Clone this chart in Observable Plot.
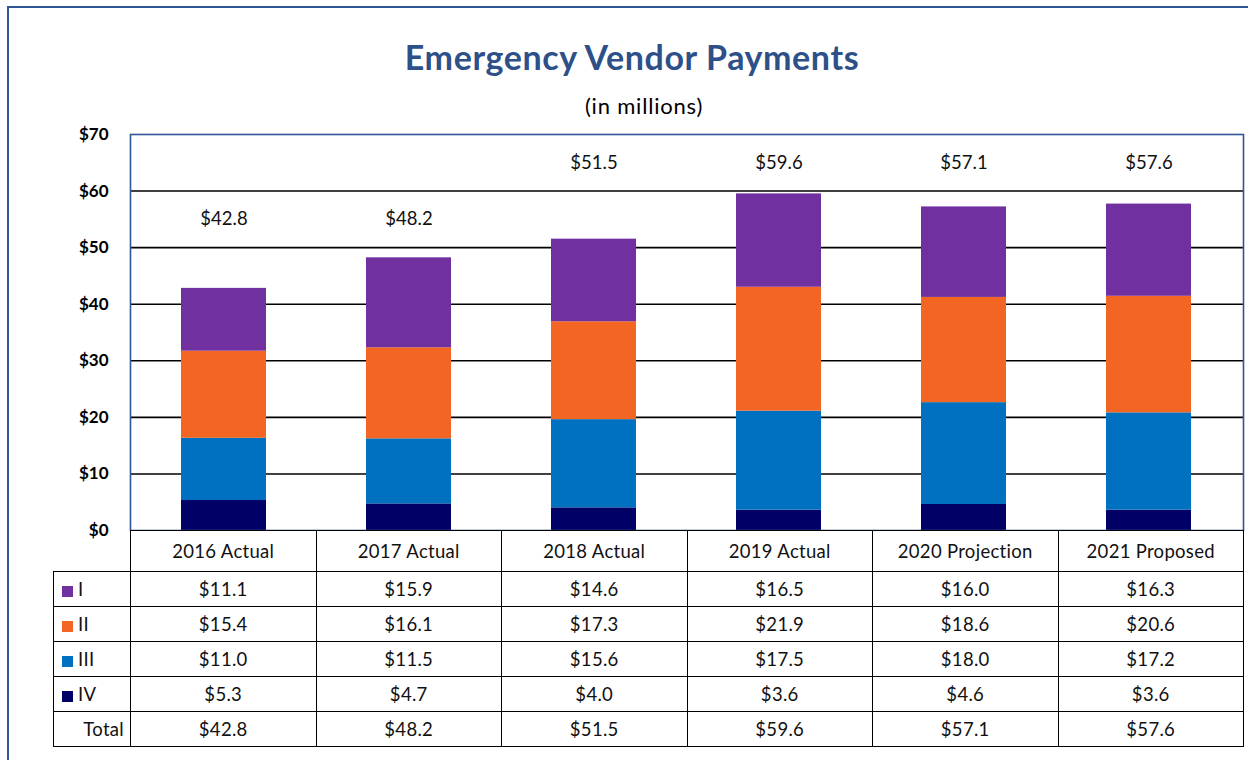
<!DOCTYPE html>
<html>
<head>
<meta charset="utf-8">
<script src="https://cdn.jsdelivr.net/npm/d3@7"></script>
<script src="https://cdn.jsdelivr.net/npm/@observablehq/plot@0.6"></script>
<style>
  html, body { margin: 0; padding: 0; background: #fff; width: 1248px; height: 760px; overflow: hidden; }
  body { font-family: Lato, "Open Sans", sans-serif; }
  #frame { position: absolute; left: 7px; top: 6px; width: 1300px; height: 800px; border: 2px solid #2F5597; box-sizing: border-box; }
  #title { position: absolute; left: 0; width: 1264px; top: 36px; text-align: center; font-size: 34px; letter-spacing: 0.6px; font-weight: bold; color: #2D5089; }
  #subtitle { position: absolute; left: 0; width: 1288px; top: 92px; text-align: center; font-size: 22px; letter-spacing: 0.8px; color: #000; }
  #chart { position: absolute; left: 0; top: 0; }
  #tbl { position: absolute; left: 53px; top: 530px; border-collapse: collapse; font-size: 18.5px; letter-spacing: 0.3px; table-layout: fixed; background: transparent; }
  #tbl td { border: 1.6px solid #000; text-align: center; padding: 0; background: #fff; color: #111; }
  #tbl tr.head td { height: 40px; }
  #tbl tr.row td { height: 34px; }
  #tbl td.lab { text-align: left; padding-left: 8px; }
  #tbl td.tot { text-align: right; padding-right: 6px; }
  #tbl td.empty { border: none; background: transparent; }
  .sw { display: inline-block; width: 11px; height: 11px; margin-right: 5px; vertical-align: -1px; }
</style>
</head>
<body>
<div id="frame"></div>
<div id="chart"></div>
<div id="title">Emergency Vendor Payments</div>
<div id="subtitle">(in millions)</div>
<table id="tbl"></table>
<script>
// ---- data ----
const categories = ["2016 Actual", "2017 Actual", "2018 Actual", "2019 Actual", "2020 Projection", "2021 Proposed"];
const seriesNames = ["I", "II", "III", "IV"];
const valuesI   = [11.1, 15.9, 14.6, 16.5, 16.0, 16.3];
const valuesII  = [15.4, 16.1, 17.3, 21.9, 18.6, 20.6];
const valuesIII = [11.0, 11.5, 15.6, 17.5, 18.0, 17.2];
const valuesIV  = [5.3, 4.7, 4.0, 3.6, 4.6, 3.6];
const totals    = [42.8, 48.2, 51.5, 59.6, 57.1, 57.6];
const yTicks    = [0, 10, 20, 30, 40, 50, 60, 70];
const colors    = ["#7030A0", "#F26522", "#0070C0", "#000066"];

const seriesValues = {I: valuesI, II: valuesII, III: valuesIII, IV: valuesIV};
// stacking order: IV bottom, then III, II, I on top
const stackOrder = ["IV", "III", "II", "I"];
const rows = [];
for (const s of stackOrder) categories.forEach((c, i) => rows.push({cat: c, series: s, value: seriesValues[s][i]}));
const totalRows = categories.map((c, i) => ({cat: c, total: totals[i]}));
const fmt = v => "$" + v.toFixed(1);
// total label sits in the middle of the grid interval just above the bar's gridline band
const labelAt = d => Math.floor(d.total / 10) * 10 + 15;

const plot = Plot.plot({
  width: 1248,
  height: 545,
  marginLeft: 130,
  marginRight: 5,
  marginTop: 134,
  marginBottom: 15,
  style: {background: "transparent", fontFamily: "Lato, 'Open Sans', sans-serif", overflow: "visible"},
  x: {domain: categories, paddingInner: 0.54, paddingOuter: 0.27, axis: null, label: null},
  y: {domain: [0, 70], axis: null, label: null},
  color: {domain: seriesNames, range: colors},
  marks: [
    Plot.ruleY(yTicks.filter(t => t > 0 && t < 70), {stroke: "#000", strokeWidth: 1.6}),
    Plot.barY(rows, Plot.stackY({order: stackOrder, x: "cat", y: "value", fill: "series", inset: 0, style: "filter: drop-shadow(1px 1px 1.5px rgba(0,0,0,0.25))"})),
    Plot.frame({stroke: "#2F5597", strokeWidth: 1.6}),
    Plot.axisY({ticks: yTicks, tickSize: 0, tickPadding: 22, label: null, tickFormat: d => "$" + d, fontSize: 17, fontWeight: "bold", fill: "#000"}),
    Plot.text(totalRows, {x: "cat", y: labelAt, text: d => fmt(d.total), fontSize: 18.5, fill: "#111"})
  ]
});
document.getElementById("chart").appendChild(plot);

// ---- table ----
const tbl = document.getElementById("tbl");
const colg = document.createElement("colgroup");
const c0 = document.createElement("col"); c0.style.width = "77px"; colg.appendChild(c0);
categories.forEach(() => { const c = document.createElement("col"); c.style.width = "185.5px"; colg.appendChild(c); });
tbl.appendChild(colg);
let tr = document.createElement("tr"); tr.className = "head";
let td = document.createElement("td"); td.className = "empty"; tr.appendChild(td);
categories.forEach(c => { const t = document.createElement("td"); t.textContent = c; tr.appendChild(t); });
tbl.appendChild(tr);
seriesNames.forEach((s, si) => {
  const r = document.createElement("tr"); r.className = "row";
  const l = document.createElement("td"); l.className = "lab";
  const sw = document.createElement("span"); sw.className = "sw"; sw.style.background = colors[si];
  l.appendChild(sw); l.appendChild(document.createTextNode(s));
  r.appendChild(l);
  seriesValues[s].forEach(v => { const t = document.createElement("td"); t.textContent = fmt(v); r.appendChild(t); });
  tbl.appendChild(r);
});
tr = document.createElement("tr"); tr.className = "row";
td = document.createElement("td"); td.className = "tot"; td.textContent = "Total"; tr.appendChild(td);
totals.forEach(v => { const t = document.createElement("td"); t.textContent = fmt(v); tr.appendChild(t); });
tbl.appendChild(tr);
</script>
</body>
</html>
